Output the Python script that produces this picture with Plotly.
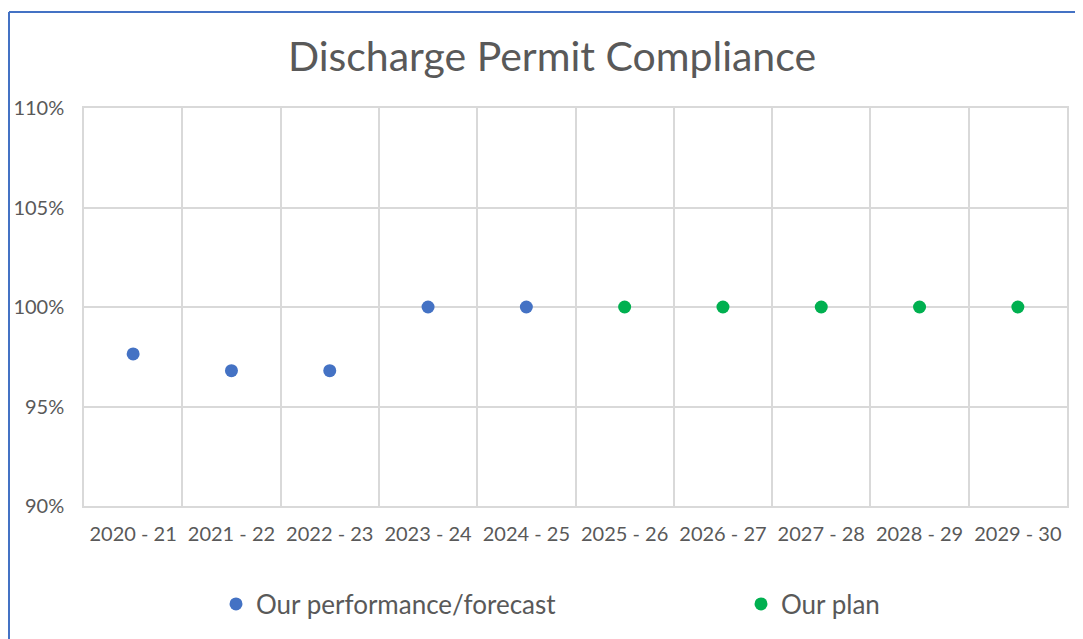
import plotly.graph_objects as go

categories = ["2020 - 21", "2021 - 22", "2022 - 23", "2023 - 24", "2024 - 25",
              "2025 - 26", "2026 - 27", "2027 - 28", "2028 - 29", "2029 - 30"]
performance_cats = categories[:5]
performance_vals = [97.64, 96.8, 96.8, 100.0, 100.0]
plan_cats = categories[5:]
plan_vals = [100.0, 100.0, 100.0, 100.0, 100.0]
y_ticks = [90, 95, 100, 105, 110]

FONT = "Lato"
GREY_TEXT = "#595959"
GRID = "#d9d9d9"

# page body has an 8px margin, so figure coords = screen coords - 8
OFF = 8
W, H = 1083 - OFF, 639 - OFF
L, R, T, B = 84 - OFF, 16, 108 - OFF, 639 - 506
pw, ph = W - L - R, H - T - B

def px_x(sx):
    return (sx - OFF - L) / pw

def px_y(sy):
    return (H - B - (sy - OFF)) / ph

fig = go.Figure()
fig.add_trace(go.Scatter(x=performance_cats, y=performance_vals, mode="markers",
                         name="Our performance/forecast", legend="legend",
                         marker=dict(color="#4472C4", size=13)))
fig.add_trace(go.Scatter(x=plan_cats, y=plan_vals, mode="markers",
                         name="Our plan", legend="legend2",
                         marker=dict(color="#00B050", size=13)))

legend_common = dict(orientation="h", yanchor="middle", y=px_y(604),
                     xanchor="left", itemwidth=30, bgcolor="rgba(0,0,0,0)",
                     font=dict(size=26, color=GREY_TEXT, family=FONT))

fig.update_layout(
    width=W, height=H,
    margin=dict(l=L, r=R, t=T, b=B, pad=0, autoexpand=False),
    paper_bgcolor="white", plot_bgcolor="white",
    font=dict(family=FONT, color=GREY_TEXT, size=20),
    title=dict(text="Discharge Permit Compliance", x=px_x(552), xanchor="center",
               xref="paper", y=1 - (57 - OFF) / H, yanchor="middle",
               font=dict(size=41, color=GREY_TEXT, family=FONT)),
    xaxis=dict(type="category", categoryorder="array", categoryarray=categories,
               range=[-0.5, len(categories) - 0.5],
               tickson="boundaries", showgrid=True, gridcolor=GRID, gridwidth=1.5,
               showline=True, linecolor=GRID, linewidth=1.5, mirror=True,
               automargin=False,
               ticks="", ticklabelstandoff=9, tickfont=dict(size=20)),
    yaxis=dict(range=[90, 110], tickvals=y_ticks, ticktext=[f"{v}%" for v in y_ticks],
               showgrid=True, gridcolor=GRID, gridwidth=1.5, zeroline=False,
               showline=True, linecolor=GRID, linewidth=1.5, mirror=True,
               automargin=False,
               ticks="", ticklabelstandoff=14, tickfont=dict(size=20)),
    legend=dict(x=px_x(216), **legend_common),
    legend2=dict(x=px_x(741), **legend_common),
    showlegend=True,
)

# outer chart border (blue, left and top edges visible)
fig.add_shape(type="line", xref="paper", yref="paper",
              x0=px_x(9), x1=px_x(9), y0=px_y(12), y1=px_y(700),
              line=dict(color="#4472C4", width=2))
fig.add_shape(type="line", xref="paper", yref="paper",
              x0=px_x(9), x1=px_x(1200), y0=px_y(12), y1=px_y(12),
              line=dict(color="#4472C4", width=2))

fig.write_html("out.html")
